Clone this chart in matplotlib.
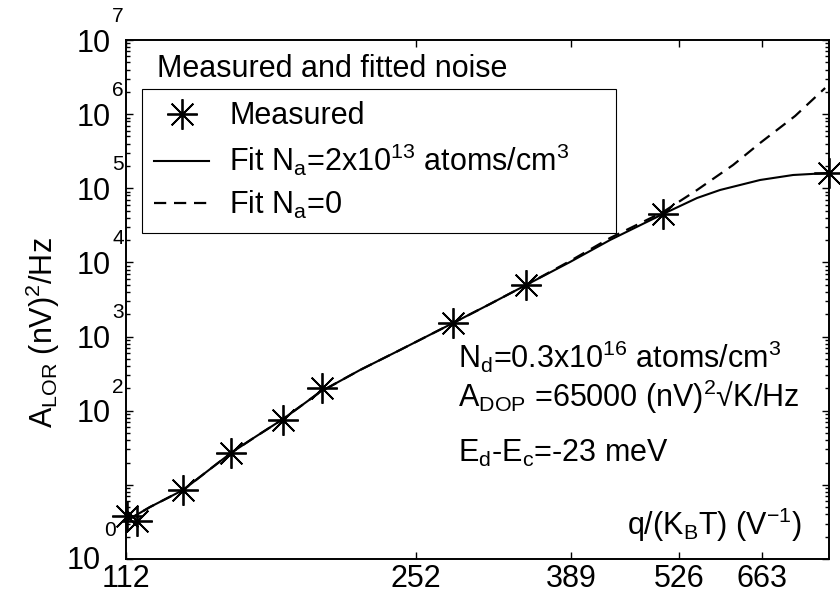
import matplotlib
matplotlib.use('Agg')
import matplotlib.pyplot as plt
from matplotlib.ticker import NullLocator, LogLocator

plt.rcParams['font.family'] = ['Liberation Sans', 'DejaVu Sans']
plt.rcParams['mathtext.fontset'] = 'custom'
plt.rcParams['mathtext.rm'] = 'Liberation Sans'
plt.rcParams['mathtext.default'] = 'regular'

# measured Lorentzian noise amplitude against q/(kB T)
meas_x = [112.3, 115.5, 131.4, 150.2, 173.8, 193.8, 279.6, 342.9, 503.0, 800.0]
meas_y = [3.8, 3.25, 8.5, 26.9, 75.0, 202.5, 1525, 4960, 45000, 160800]

# fit with Na = 2e13 atoms/cm^3
fit_x = [112.0, 119.8, 131.4, 139.7, 150.2, 160.7, 173.8, 192.7, 215.5, 241.0,
         279.6, 310.0, 342.9, 387.8, 433.7, 503.0, 553.2, 590.0, 659.8, 723.6, 800.0]
fit_y = [3.25, 5.03, 8.52, 14.45, 26.9, 44.2, 77.3, 178.8, 354, 659,
         1525, 2750, 4963, 10140, 20080, 45020, 74000, 94900, 129400, 151100, 160800]

# fit with Na = 0
fit0_x = [112.0, 119.8, 131.4, 139.7, 150.2, 160.7, 173.8, 192.7, 215.5, 241.0,
          279.6, 310.0, 342.9, 387.8, 433.7, 503.0, 553.2, 611.8, 659.8, 727.7, 791.4]
fit0_y = [3.25, 5.03, 8.52, 14.45, 26.9, 44.2, 77.3, 178.8, 354, 659,
          1525, 2750, 4963, 10460, 21360, 47890, 94900, 206200, 408300, 944600, 2253000]

xtick_vals = [112, 252, 389, 526, 663]
ytick_exps = [0, 1, 2, 3, 4, 5, 6, 7]
fs = 22

W, H = 840, 603


def fxy(x, y):
    # pixel position -> figure fraction
    return x / W, 1 - y / H


fig = plt.figure(figsize=(W / 100, H / 100), dpi=100)
ax = fig.add_axes([126 / W, 44 / H, 703 / W, 519 / H])

l_meas, = ax.plot(meas_x, meas_y, ls='none', marker=(8, 2, 0), ms=22, mew=1.3,
                  color='k', clip_on=False, zorder=3)
l_fit, = ax.plot(fit_x, fit_y, color='k', lw=1.5)
l_fit0, = ax.plot(fit0_x, fit0_y, color='k', lw=1.6, ls=(0, (5.5, 3.5)))

ax.set_xscale('log')
ax.set_yscale('log')
ax.set_xlim(112, 800)
ax.set_ylim(1, 1e7)

ax.set_xticks(xtick_vals)
ax.set_xticklabels([str(v) for v in xtick_vals])
ax.xaxis.set_minor_locator(NullLocator())

ax.set_yticks([10.0 ** e for e in ytick_exps])
ax.set_yticklabels(['' if e < 2 else '10' for e in ytick_exps])
ax.yaxis.set_minor_locator(LogLocator(base=10, subs=range(2, 10), numticks=20))

ax.tick_params(which='both', direction='in', top=True, right=True, width=1.0)
ax.tick_params(which='major', length=5)
ax.tick_params(which='minor', length=3)
ax.tick_params(axis='x', labelsize=fs, pad=3.5)
ax.tick_params(axis='y', labelsize=fs, pad=11)
for sp in ax.spines.values():
    sp.set_linewidth(1.4)

# exponents for the y tick labels
for e in ytick_exps:
    if e < 2:
        continue
    ax.annotate(str(e), xy=(0, 10.0 ** e), xycoords=('axes fraction', 'data'),
                xytext=(-10, 17), textcoords='offset points',
                ha='left', va='center', fontsize=15)
# bottom label sits a bit lower, beside the first x label
fig.text(*fxy(101, 561), '10', fontsize=fs, ha='right', va='center')
fig.text(*fxy(104, 530), '0', fontsize=15, ha='left', va='center')

leg = ax.legend([l_meas, l_fit, l_fit0],
                ['Measured', 'Fit N$_a$=2x10$^{13}$ atoms/cm$^3$', 'Fit N$_a$=0'],
                loc='upper left', bbox_to_anchor=(16 / 703, 0, 474 / 703, 470 / 519),
                mode='expand', borderaxespad=0, fontsize=fs, frameon=True,
                fancybox=False, edgecolor='k', framealpha=1, numpoints=1,
                handlelength=1.8, handletextpad=0.65, borderpad=0.4,
                labelspacing=0.35)
leg.get_frame().set_linewidth(0.8)

fig.text(*fxy(157, 77), 'Measured and fitted noise', fontsize=fs, va='baseline')
fig.text(*fxy(458, 368), 'N$_d$=0.3x10$^{16}$ atoms/cm$^3$', fontsize=fs, va='baseline')
fig.text(*fxy(458, 407), 'A$_{DOP}$ =65000 (nV)$^2$\u221aK/Hz', fontsize=fs, va='baseline')
fig.text(*fxy(458, 462), 'E$_d$-E$_c$=-23 meV', fontsize=fs, va='baseline')
fig.text(*fxy(627, 535), 'q/(K$_B$T) (V$^{-1}$)', fontsize=fs, va='baseline')
fig.text(*fxy(53, 333), 'A$_{LOR}$ (nV)$^2$/Hz', fontsize=fs, rotation=90,
         rotation_mode='anchor', ha='center', va='baseline')

fig.savefig('out.png', dpi=100)
